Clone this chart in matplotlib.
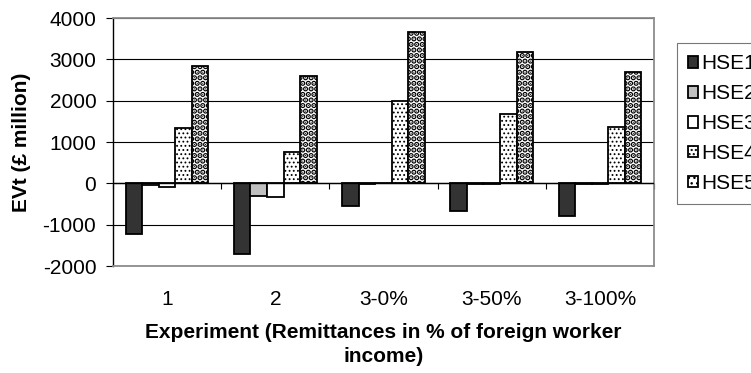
import numpy as np
import matplotlib
matplotlib.use("Agg")
import matplotlib.pyplot as plt

plt.rcParams['font.family'] = ['Liberation Sans', 'DejaVu Sans']
plt.rcParams['axes.unicode_minus'] = False

experiments = ["1", "2", "3-0%", "3-50%", "3-100%"]
series_names = ["HSE1", "HSE2", "HSE3", "HSE4", "HSE5"]
hse1 = [-1235, -1719, -542, -663, -792]
hse2 = [-40, -300, -10, -10, -20]
hse3 = [-97, -324, 20, -10, -20]
hse4 = [1346, 750, 2000, 1678, 1370]
hse5 = [2847, 2605, 3656, 3172, 2687]
values = [hse1, hse2, hse3, hse4, hse5]

styles = [
    dict(facecolor="#333333", hatch=None, hlw=1.0),
    dict(facecolor="#c0c0c0", hatch=None, hlw=1.0),
    dict(facecolor="white", hatch=None, hlw=1.0),
    dict(facecolor="white", hatch="....", hlw=0.8),
    dict(facecolor="white", hatch="...", hlw=2.8),
]

FS = 15

fig = plt.figure(figsize=(7.51, 3.73), dpi=100)
ax = fig.add_axes([113 / 751, 1 - 266 / 373, (654 - 113) / 751, (266 - 18) / 373])

x = np.arange(len(experiments))
width = 0.153
handles = []
for i, (vals, st) in enumerate(zip(values, styles)):
    with plt.rc_context({'hatch.linewidth': st['hlw'], 'hatch.color': 'black'}):
        bars = ax.bar(x + (i - 2) * width, vals, width, facecolor=st['facecolor'],
                      edgecolor="black", linewidth=1.3, hatch=st['hatch'],
                      label=series_names[i], zorder=3)
    handles.append(bars)

ax.set_xlim(-0.5, len(experiments) - 0.5)
ax.set_ylim(-2000, 4000)
ax.set_yticks(np.arange(-2000, 4001, 1000))
ax.yaxis.grid(True, color="black", linewidth=0.8, zorder=0)
ax.axhline(0, color="black", linewidth=1.0, zorder=4)

ax.set_xticks(x)
ax.set_xticklabels(experiments, fontsize=FS)
ax.tick_params(axis='x', length=0, pad=17)
ax.tick_params(axis='y', direction='out', length=5, labelsize=FS, pad=7)

for side in ("top", "right", "bottom"):
    ax.spines[side].set_color("#8c8c8c")
    ax.spines[side].set_linewidth(1.3)
ax.spines["left"].set_color("black")
ax.spines["left"].set_linewidth(1.0)

# boundary ticks along the zero line
sec = ax.secondary_xaxis(2000 / 6000)
sec.set_xticks(np.arange(-0.5, len(experiments) + 0.5, 1.0))
sec.set_xticklabels([])
sec.tick_params(axis='x', direction='out', length=4, width=0.8)
sec.spines["bottom"].set_visible(False)

ax.set_ylabel("EVt (£ million)", fontsize=FS, fontweight="bold", labelpad=8)
ax.set_xlabel("Experiment (Remittances in % of foreign worker\nincome)",
              fontsize=FS, fontweight="bold", labelpad=10, linespacing=1.35)

leg = fig.legend(handles=handles, labels=series_names, loc="upper left",
                 bbox_to_anchor=(677 / 751, 1 - 43 / 373), fontsize=FS,
                 frameon=True, fancybox=False, edgecolor="#555555",
                 handlelength=0.48, handleheight=0.48, handletextpad=0.12,
                 labelspacing=0.52, borderpad=0.55, borderaxespad=0)
leg.get_frame().set_linewidth(0.8)

fig.savefig("out.png", dpi=100)
